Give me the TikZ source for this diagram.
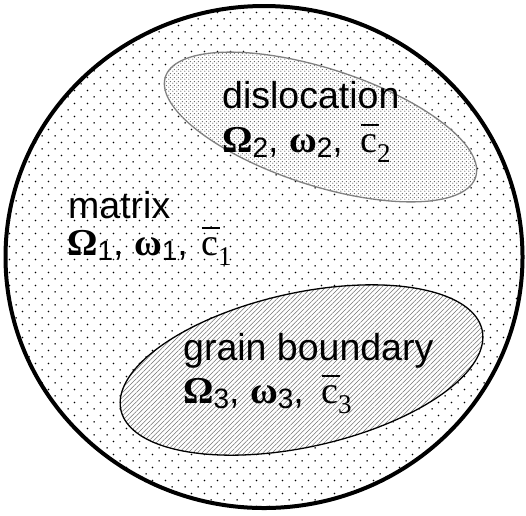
\documentclass[tikz,border=0pt]{standalone}
\usepackage{fontspec}
\setmainfont{Liberation Sans}
\newfontfamily\tmsfont{Liberation Serif}
\usetikzlibrary{patterns.meta}

\tikzdeclarepattern{
  name=matrixdots, type=uncolored,
  bounding box={(0pt,0pt) and (13.3pt,13.3pt)},
  tile size={(13.3pt,13.3pt)},
  code={\fill (3.3pt,3.3pt) circle (0.9pt); \fill (9.95pt,9.95pt) circle (0.9pt);}
}
\tikzdeclarepattern{
  name=finedots, type=uncolored,
  bounding box={(0pt,0pt) and (4pt,4pt)},
  tile size={(4pt,4pt)},
  code={\fill (1pt,1pt) circle (0.75pt); \fill (3pt,3pt) circle (0.75pt);}
}

\newcommand\subs[1]{\raisebox{-5pt}{\fontsize{28}{30}\selectfont #1}}
\newcommand\gsym[1]{{\tmsfont\bfseries\fontsize{38}{40}\selectfont #1}}
\newcommand\cbarsub[1]{{\tmsfont\fontsize{38}{40}\selectfont\rlap{\hspace{0.5pt}\raisebox{26pt}{\rule{18pt}{1.8pt}}}c\raisebox{-10pt}{\fontsize{27}{30}\selectfont #1}}}
\newcommand\varline[2]{\gsym{Ω}\subs{#1}, \gsym{ω}\subs{#1}, \hspace{#2}\cbarsub{#1}}

\tikzset{
  lbl/.style={inner sep=0pt, anchor=base west, font=\fontsize{37.5}{40}\selectfont},
  outerring/.style={draw=black, line width=4pt},
  matrixfill/.style={fill=white, postaction={pattern=matrixdots, pattern color=black}},
  dislfill/.style={fill=white, postaction={pattern=finedots, pattern color=black!62}},
  dislborder/.style={draw=black!50, line width=1.3pt},
  gbfill/.style={fill=white, postaction={pattern={Lines[angle=45,distance=3.3pt,line width=0.55pt]}, pattern color=black!55}},
  gbborder/.style={draw=black, line width=1.3pt}
}

\begin{document}
\begin{tikzpicture}[x=1pt,y=-1pt]
\useasboundingbox (0,0) rectangle (526,515);

% matrix (grain)
\path[matrixfill] (264,257) ellipse [x radius=258.5, y radius=251];

% dislocation region
\path[dislfill] plot[domain=0:360, samples=181]
  ({320.5 + 163*cos(\x)*cos(17.9) - 58.5*sin(\x)*sin(17.9)},
   {127 + 163*cos(\x)*sin(17.9) + 58.5*sin(\x)*cos(17.9)}) -- cycle;
\path[dislborder] plot[domain=0:360, samples=181]
  ({320.5 + 163*cos(\x)*cos(17.9) - 58.5*sin(\x)*sin(17.9)},
   {127 + 163*cos(\x)*sin(17.9) + 58.5*sin(\x)*cos(17.9)}) -- cycle;

% grain boundary region
\path[gbfill] plot[domain=0:360, samples=181]
  ({301.5 + 185*cos(\x)*cos(-12.5) - 77*sin(\x)*sin(-12.5)},
   {370 + 185*cos(\x)*sin(-12.5) + 77*sin(\x)*cos(-12.5)}) -- cycle;
\path[gbborder] plot[domain=0:360, samples=181]
  ({301.5 + 185*cos(\x)*cos(-12.5) - 77*sin(\x)*sin(-12.5)},
   {370 + 185*cos(\x)*sin(-12.5) + 77*sin(\x)*cos(-12.5)}) -- cycle;

% outer boundary
\path[outerring] (264,257) ellipse [x radius=258.5, y radius=251];

% labels
\node[lbl] (dislname) at (222,108) {dislocation};
\node[lbl] (dislvars) at (222,152) {\varline{2}{7pt}};
\node[lbl] (matname) at (68,218) {matrix};
\node[lbl] (matvars) at (67,255) {\varline{1}{3pt}};
\node[lbl] (gbname) at (183,360) {grain boundary};
\node[lbl] (gbvars) at (183,403) {\varline{3}{7pt}};
\end{tikzpicture}
\end{document}
